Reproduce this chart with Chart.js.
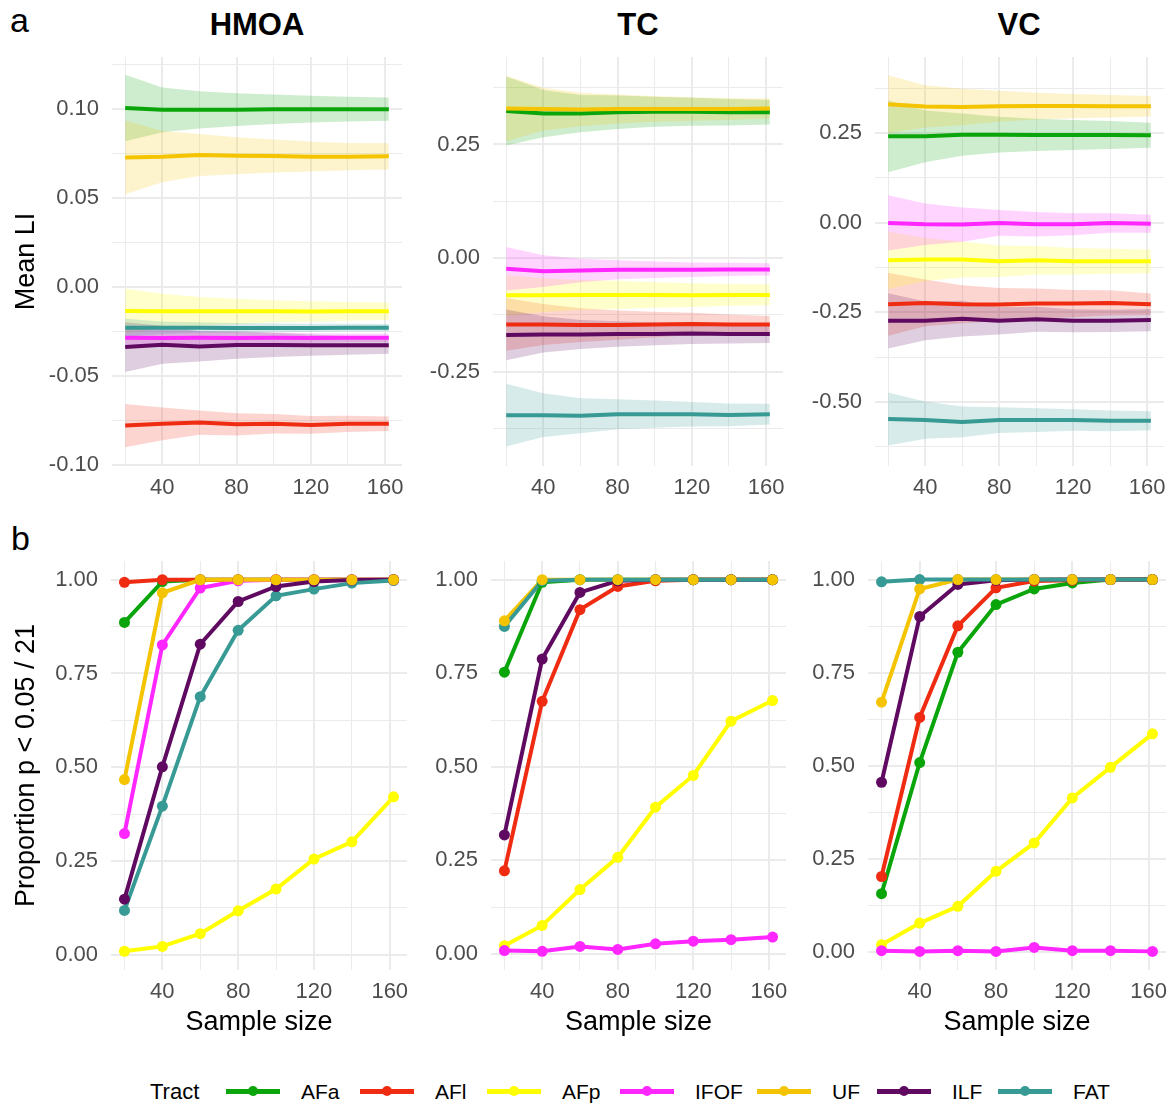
<!DOCTYPE html>
<html>
<head>
<meta charset="utf-8">
<script src="https://cdn.jsdelivr.net/npm/chart.js@4.4.1/dist/chart.umd.min.js"></script>
<style>
  body { margin: 0; background: #fff; }
  #fig { position: relative; width: 1173px; height: 1106px; overflow: hidden;
         font-family: "Liberation Sans", Arial, Helvetica, sans-serif; color: #000; background: #fff; }
  #fig canvas { position: absolute; }
  .txt { position: absolute; white-space: nowrap; line-height: 1; }
</style>
</head>
<body>
<div id="fig"></div>
<script>
// sample sizes on the x axis and the tracts (legend order)
const sampleSizes = [20, 40, 60, 80, 100, 120, 140, 162];
const tracts = ["AFa", "AFl", "AFp", "IFOF", "UF", "ILF", "FAT"];
const tractColors = ["#0aa50a", "#ef2b12", "#ffff00", "#ff26ff", "#f4c400", "#5f0a60", "#389a94"];
// points are stacked in alphabetical order, UF ends up on top
const pointOrder = ["AFa", "AFl", "AFp", "FAT", "IFOF", "ILF", "UF"];

// tick positions (gridlines) and the ones that get a label
const xTicks = [20, 40, 60, 80, 100, 120, 140, 160];
const xLabels = [40, 80, 120, 160];
const hmoaTicks = [-0.1, -0.075, -0.05, -0.025, 0, 0.025, 0.05, 0.075, 0.1, 0.125];
const hmoaLabels = [-0.1, -0.05, 0, 0.05, 0.1];
const tcTicks = [-0.375, -0.25, -0.125, 0, 0.125, 0.25, 0.375];
const tcLabels = [-0.25, 0, 0.25];
const vcTicks = [-0.625, -0.5, -0.375, -0.25, -0.125, 0, 0.125, 0.25, 0.375];
const vcLabels = [-0.5, -0.25, 0, 0.25];
const propTicks = [0, 0.125, 0.25, 0.375, 0.5, 0.625, 0.75, 0.875, 1];
const propLabels = [0, 0.25, 0.5, 0.75, 1];

// mean LI per tract (rows follow `tracts`), and half width of the band around it
const hmoaMean = [
  [0.1005, 0.0995, 0.0995, 0.0996, 0.0998, 0.0999, 0.0999, 0.0999],
  [-0.0779, -0.0769, -0.0762, -0.0772, -0.0769, -0.0775, -0.0769, -0.0769],
  [-0.0135, -0.0136, -0.0137, -0.0137, -0.0137, -0.0138, -0.0137, -0.0137],
  [-0.0285, -0.0287, -0.0286, -0.0287, -0.0286, -0.0287, -0.0286, -0.0286],
  [0.0728, 0.0732, 0.0741, 0.0737, 0.0736, 0.0732, 0.0732, 0.0734],
  [-0.0338, -0.0325, -0.0334, -0.0326, -0.0326, -0.0327, -0.0328, -0.0328],
  [-0.0229, -0.0229, -0.0229, -0.023, -0.023, -0.023, -0.0229, -0.0229]
];
const hmoaCI = [
  [0.0187, 0.0126, 0.0105, 0.0092, 0.0083, 0.0075, 0.0069, 0.0065],
  [0.0122, 0.0092, 0.0068, 0.0062, 0.0055, 0.005, 0.0046, 0.0041],
  [0.0125, 0.0098, 0.0081, 0.0071, 0.0062, 0.0057, 0.0053, 0.0049],
  [0.006, 0.0045, 0.0038, 0.0033, 0.003, 0.0027, 0.0025, 0.0024],
  [0.0207, 0.0144, 0.0118, 0.0104, 0.0093, 0.0084, 0.0077, 0.0074],
  [0.014, 0.0107, 0.0085, 0.0077, 0.0068, 0.006, 0.0053, 0.0048],
  [0.005, 0.0035, 0.003, 0.0027, 0.0025, 0.0023, 0.0022, 0.0021]
];
const tcMean = [
  [0.3235, 0.318, 0.318, 0.321, 0.322, 0.322, 0.321, 0.321],
  [-0.146, -0.146, -0.1475, -0.1475, -0.146, -0.145, -0.146, -0.146],
  [-0.082, -0.0815, -0.081, -0.081, -0.081, -0.0815, -0.081, -0.081],
  [-0.0235, -0.0287, -0.0272, -0.0257, -0.0257, -0.0257, -0.025, -0.025],
  [0.329, 0.328, 0.327, 0.328, 0.328, 0.328, 0.328, 0.329],
  [-0.169, -0.168, -0.168, -0.167, -0.167, -0.166, -0.167, -0.167],
  [-0.3456, -0.3456, -0.347, -0.3434, -0.3434, -0.3434, -0.345, -0.3434]
];
const tcCI = [
  [0.076, 0.052, 0.041, 0.037, 0.033, 0.031, 0.029, 0.027],
  [0.058, 0.045, 0.037, 0.032, 0.028, 0.025, 0.022, 0.0185],
  [0.045, 0.037, 0.033, 0.031, 0.028, 0.026, 0.024, 0.023],
  [0.048, 0.035, 0.026, 0.021, 0.018, 0.016, 0.0145, 0.0135],
  [0.072, 0.047, 0.037, 0.032, 0.028, 0.026, 0.024, 0.022],
  [0.056, 0.04, 0.032, 0.028, 0.025, 0.023, 0.021, 0.02],
  [0.069, 0.048, 0.0386, 0.033, 0.03, 0.027, 0.025, 0.023]
];
const vcMean = [
  [0.2407, 0.2407, 0.2454, 0.2454, 0.2445, 0.2445, 0.2445, 0.2435],
  [-0.2277, -0.224, -0.2277, -0.2286, -0.2258, -0.2258, -0.224, -0.2277],
  [-0.105, -0.103, -0.103, -0.108, -0.105, -0.108, -0.108, -0.108],
  [-0.001, -0.0046, -0.0056, -0.001, -0.0046, -0.0046, -0.001, -0.003],
  [0.33, 0.324, 0.3225, 0.3245, 0.325, 0.325, 0.3245, 0.3245],
  [-0.274, -0.274, -0.268, -0.274, -0.2695, -0.274, -0.274, -0.272],
  [-0.548, -0.551, -0.556, -0.551, -0.551, -0.551, -0.553, -0.553]
];
const vcCI = [
  [0.1, 0.072, 0.059, 0.05, 0.045, 0.042, 0.039, 0.035],
  [0.088, 0.065, 0.053, 0.046, 0.042, 0.038, 0.035, 0.03],
  [0.08, 0.06, 0.05, 0.044, 0.04, 0.037, 0.035, 0.033],
  [0.077, 0.058, 0.048, 0.036, 0.034, 0.031, 0.027, 0.025],
  [0.081, 0.059, 0.051, 0.043, 0.0375, 0.034, 0.0315, 0.0285],
  [0.077, 0.054, 0.05, 0.038, 0.035, 0.032, 0.031, 0.031],
  [0.074, 0.052, 0.043, 0.036, 0.033, 0.03, 0.029, 0.0265]
];

// proportion of samples with p < 0.05 / 21
const hmoaProp = [
  [0.886, 0.995, 1, 1, 1, 1, 1, 1],
  [0.993, 1, 1, 1, 1, 1, 1, 1],
  [0.009, 0.022, 0.056, 0.117, 0.175, 0.255, 0.301, 0.421],
  [0.323, 0.826, 0.978, 0.997, 1, 1, 1, 1],
  [0.467, 0.965, 1, 1, 1, 1, 1, 1],
  [0.148, 0.501, 0.828, 0.942, 0.982, 0.995, 0.999, 1],
  [0.118, 0.396, 0.688, 0.865, 0.957, 0.975, 0.991, 0.998]
];
const tcProp = [
  [0.753, 0.993, 1, 1, 1, 1, 1, 1],
  [0.222, 0.675, 0.92, 0.982, 0.997, 1, 1, 1],
  [0.022, 0.076, 0.172, 0.258, 0.392, 0.477, 0.622, 0.677],
  [0.009, 0.007, 0.02, 0.012, 0.027, 0.034, 0.038, 0.045],
  [0.89, 1, 1, 1, 1, 1, 1, 1],
  [0.318, 0.788, 0.966, 0.997, 1, 1, 1, 1],
  [0.875, 0.997, 1, 1, 1, 1, 1, 1]
];
const vcProp = [
  [0.157, 0.509, 0.805, 0.933, 0.975, 0.991, 1, 1],
  [0.203, 0.63, 0.876, 0.978, 0.996, 0.998, 1, 1],
  [0.02, 0.078, 0.123, 0.217, 0.293, 0.414, 0.496, 0.586],
  [0.004, 0.002, 0.004, 0.002, 0.0125, 0.004, 0.004, 0.002],
  [0.671, 0.975, 1, 1, 1, 1, 1, 1],
  [0.456, 0.901, 0.987, 0.998, 1, 1, 1, 1],
  [0.994, 1, 1, 1, 1, 1, 1, 1]
];

const fontFamily = '"Liberation Sans", Arial, Helvetica, sans-serif';
const fig = document.getElementById("fig");

function rgba(hex, a) {
  const n = parseInt(hex.slice(1), 16);
  return "rgba(" + (n >> 16) + "," + ((n >> 8) & 255) + "," + (n & 255) + "," + a + ")";
}

function xy(values) {
  return sampleSizes.map((n, i) => ({ x: n, y: values[i] }));
}

// one upper + one lower dataset per tract, filled in between
function ribbonSets(mean, ci) {
  const sets = [];
  tracts.forEach((t, k) => {
    sets.push({
      label: t + " upper",
      data: xy(mean[k].map((m, i) => m + ci[k][i])),
      borderWidth: 0, borderColor: "transparent", pointRadius: 0,
      backgroundColor: rgba(tractColors[k], 0.2),
      fill: "+1",
      order: 200 - k
    });
    sets.push({
      label: t + " lower",
      data: xy(mean[k].map((m, i) => m - ci[k][i])),
      borderWidth: 0, borderColor: "transparent", pointRadius: 0,
      fill: false,
      order: 200 - k
    });
  });
  return sets;
}

// lines drawn in legend order, FAT last (on top)
function lineSets(values, width) {
  return tracts.map((t, k) => ({
    label: t,
    data: xy(values[k]),
    borderColor: tractColors[k],
    borderWidth: width,
    pointRadius: 0,
    fill: false,
    order: 100 - k
  }));
}

function pointSets(values) {
  return tracts.map((t, k) => ({
    label: t + " points",
    data: xy(values[k]),
    showLine: false,
    pointRadius: 5.5,
    pointBackgroundColor: tractColors[k],
    pointBorderWidth: 0,
    fill: false,
    order: 10 - pointOrder.indexOf(t)
  }));
}

const AXW = 80, AXH = 40, PADT = 10, PADR = 25;

function panel(rect, yRange, yTicks, yLabels, datasets) {
  const canvas = document.createElement("canvas");
  const w = AXW + rect.r - rect.l + PADR;
  const h = PADT + rect.b - rect.t + AXH;
  canvas.width = w;
  canvas.height = h;
  canvas.style.width = w + "px";
  canvas.style.height = h + "px";
  canvas.style.left = (rect.l - AXW) + "px";
  canvas.style.top = (rect.t - PADT) + "px";
  fig.appendChild(canvas);

  const tickFont = { family: fontFamily, size: 22 };
  return new Chart(canvas, {
    type: "line",
    data: { datasets: datasets },
    options: {
      responsive: false,
      animation: false,
      devicePixelRatio: 1,
      layout: { padding: { top: PADT, right: PADR, left: 0, bottom: 0 } },
      elements: { line: { tension: 0, capBezierPoints: false } },
      plugins: {
        legend: { display: false },
        tooltip: { enabled: false },
        filler: { drawTime: "beforeDatasetsDraw" }
      },
      scales: {
        x: {
          type: "linear",
          min: 12.9,
          max: 169.1,
          afterBuildTicks: s => { s.ticks = xTicks.map(v => ({ value: v })); },
          afterFit: s => { s.height = AXH; s.paddingLeft = 0; s.paddingRight = 0; },
          grid: {
            color: "#ebebeb",
            lineWidth: c => (c.tick && xLabels.includes(c.tick.value)) ? 2 : 1,
            drawTicks: false
          },
          border: { display: false },
          ticks: {
            autoSkip: false, maxRotation: 0, padding: 9,
            color: "#4d4d4d", font: tickFont,
            callback: v => xLabels.includes(v) ? String(v) : ""
          }
        },
        y: {
          type: "linear",
          min: yRange[0],
          max: yRange[1],
          afterBuildTicks: s => { s.ticks = yTicks.map(v => ({ value: v })); },
          afterFit: s => { s.width = AXW; s.paddingTop = 0; s.paddingBottom = 0; },
          grid: {
            color: "#ebebeb",
            lineWidth: c => (c.tick && yLabels.includes(c.tick.value)) ? 2 : 1,
            drawTicks: false
          },
          border: { display: false },
          ticks: {
            autoSkip: false, padding: 13,
            color: "#4d4d4d", font: tickFont,
            callback: v => yLabels.includes(v) ? v.toFixed(2) : ""
          }
        }
      }
    }
  });
}

// row a: mean LI with bands
panel({ l: 112, r: 402, t: 57, b: 466 }, [-0.1006, 0.1292], hmoaTicks, hmoaLabels,
      ribbonSets(hmoaMean, hmoaCI).concat(lineSets(hmoaMean, 4)));
panel({ l: 493, r: 783, t: 57, b: 466 }, [-0.4575, 0.4425], tcTicks, tcLabels,
      ribbonSets(tcMean, tcCI).concat(lineSets(tcMean, 4)));
panel({ l: 875, r: 1164, t: 57, b: 466 }, [-0.679, 0.462], vcTicks, vcLabels,
      ribbonSets(vcMean, vcCI).concat(lineSets(vcMean, 4)));

// row b: proportion significant
panel({ l: 111, r: 407, t: 561, b: 970 }, [-0.041, 1.05], propTicks, propLabels,
      lineSets(hmoaProp, 4).concat(pointSets(hmoaProp)));
panel({ l: 491, r: 786, t: 561, b: 970 }, [-0.043, 1.05], propTicks, propLabels,
      lineSets(tcProp, 4).concat(pointSets(tcProp)));
panel({ l: 868, r: 1166, t: 561, b: 970 }, [-0.048, 1.05], propTicks, propLabels,
      lineSets(vcProp, 4).concat(pointSets(vcProp)));

// text around the panels
function addText(str, css) {
  const d = document.createElement("div");
  d.className = "txt";
  d.textContent = str;
  Object.assign(d.style, css);
  fig.appendChild(d);
  return d;
}

addText("a", { left: "10px", top: "3px", fontSize: "34px" });
addText("b", { left: "11px", top: "521px", fontSize: "34px" });

[["HMOA", 257], ["TC", 638], ["VC", 1019]].forEach(([name, cx]) => {
  addText(name, { left: cx + "px", top: "9px", fontSize: "31px", fontWeight: "bold",
                  transform: "translateX(-50%)" });
});

[["Mean LI", 261.5], ["Proportion p < 0.05 / 21", 765.5]].forEach(([str, cy]) => {
  addText(str, { left: (24.6 - 200) + "px", top: (cy - 13.5) + "px", width: "400px", height: "27px",
                 fontSize: "27px", textAlign: "center", transform: "rotate(-90deg)" });
});

[259, 638.5, 1017].forEach(cx => {
  addText("Sample size", { left: cx + "px", top: "1008px", fontSize: "27px",
                           transform: "translateX(-50%)" });
});

// legend
addText("Tract", { left: "150px", top: "1081px", fontSize: "22px" });
const keyLefts = [226, 360, 487, 620, 757, 877, 998];
tracts.forEach((t, k) => {
  const x = keyLefts[k];
  const line = document.createElement("div");
  Object.assign(line.style, { position: "absolute", left: x + "px", top: "1088.5px", width: "54px",
                              height: "5px", background: tractColors[k] });
  fig.appendChild(line);
  const dot = document.createElement("div");
  Object.assign(dot.style, { position: "absolute", left: (x + 22) + "px", top: "1086px", width: "10px",
                             height: "10px", borderRadius: "50%", background: tractColors[k] });
  fig.appendChild(dot);
  addText(t, { left: (x + 75) + "px", top: "1081px", fontSize: "21px" });
});
</script>
</body>
</html>
